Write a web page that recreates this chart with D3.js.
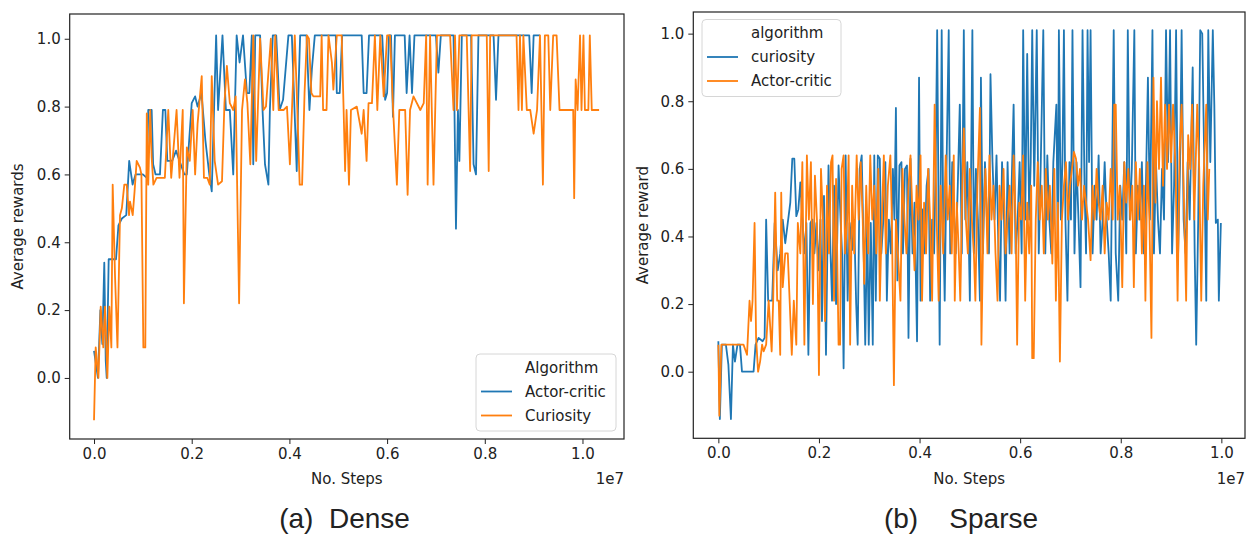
<!DOCTYPE html>
<html>
<head>
<meta charset="utf-8">
<script src="https://cdn.jsdelivr.net/npm/d3@7"></script>
<style>
    body { margin: 0; background: #fff; }
    svg text { font-family: "DejaVu Sans", sans-serif; fill: #222; }
</style>
</head>
<body>
<div id="chart"></div>
<script>

// ticks (steps are in units of 1e7)
var stepTicks = [0, 0.2, 0.4, 0.6, 0.8, 1.0];
var rewardTicks = [0, 0.2, 0.4, 0.6, 0.8, 1.0];

// (a) Dense  -- [steps (1e7), average reward]
var denseActorCritic = [[0,0.08],[0.008,0.0],[0.013,0.2],[0.017,0.1],[0.021,0.34],[0.024,0.05],[0.026,0.0],[0.03,0.35],[0.045,0.35],[0.05,0.45],[0.057,0.47],[0.066,0.48],[0.072,0.64],[0.079,0.57],[0.085,0.6],[0.1,0.6],[0.108,0.59],[0.111,0.79],[0.118,0.79],[0.121,0.63],[0.126,0.6],[0.135,0.6],[0.141,0.79],[0.146,0.79],[0.15,0.64],[0.16,0.64],[0.168,0.67],[0.175,0.64],[0.185,0.6],[0.19,0.6],[0.2,0.81],[0.207,0.83],[0.212,0.8],[0.22,0.84],[0.228,0.7],[0.236,0.6],[0.241,0.55],[0.25,1.01],[0.254,0.79],[0.263,1.01],[0.27,0.79],[0.278,0.79],[0.285,0.6],[0.292,1.01],[0.298,0.93],[0.305,1.01],[0.313,0.84],[0.318,0.84],[0.323,1.01],[0.326,0.63],[0.33,1.01],[0.34,1.01],[0.345,0.79],[0.35,0.63],[0.357,0.57],[0.36,0.79],[0.366,1.01],[0.373,1.01],[0.38,0.79],[0.387,0.82],[0.398,1.01],[0.405,1.01],[0.415,0.61],[0.418,0.82],[0.422,1.01],[0.435,1.01],[0.441,0.79],[0.446,0.91],[0.452,1.01],[0.495,1.01],[0.497,0.84],[0.503,0.84],[0.508,1.01],[0.548,1.01],[0.552,0.84],[0.558,0.84],[0.563,1.01],[0.59,1.01],[0.596,0.82],[0.6,0.84],[0.604,1.01],[0.608,1.01],[0.612,0.77],[0.616,1.01],[0.636,1.01],[0.64,0.84],[0.646,1.01],[0.651,0.84],[0.656,1.01],[0.7,1.01],[0.705,0.9],[0.71,1.01],[0.736,1.01],[0.741,0.44],[0.745,0.79],[0.748,0.64],[0.753,1.01],[0.772,1.01],[0.777,0.63],[0.782,0.6],[0.787,1.01],[0.818,1.01],[0.823,0.82],[0.828,1.01],[0.891,1.01],[0.896,0.84],[0.9,1.01],[0.913,1.01]];

var denseCuriosity = [[0,-0.125],[0.0034,0.09],[0.009,0.0],[0.0137,0.21],[0.019,0.09],[0.0225,0.21],[0.0273,0.0],[0.0314,0.21],[0.0355,0.09],[0.0382,0.57],[0.043,0.3],[0.048,0.09],[0.0532,0.48],[0.057,0.5],[0.062,0.57],[0.0669,0.57],[0.0717,0.48],[0.0737,0.52],[0.0792,0.48],[0.083,0.55],[0.0873,0.64],[0.094,0.62],[0.097,0.6],[0.101,0.09],[0.105,0.09],[0.108,0.78],[0.111,0.57],[0.115,0.79],[0.118,0.65],[0.1215,0.57],[0.128,0.59],[0.145,0.59],[0.152,0.79],[0.158,0.59],[0.169,0.79],[0.175,0.59],[0.1816,0.79],[0.184,0.22],[0.19,0.68],[0.196,0.64],[0.202,0.79],[0.207,0.6],[0.212,0.75],[0.2205,0.89],[0.225,0.59],[0.232,0.59],[0.237,0.57],[0.241,0.89],[0.247,0.64],[0.254,0.57],[0.262,0.58],[0.267,0.81],[0.272,0.92],[0.278,0.81],[0.285,0.79],[0.29,0.83],[0.297,0.22],[0.303,0.79],[0.309,0.88],[0.314,0.81],[0.32,0.63],[0.326,1.01],[0.332,0.64],[0.34,1.0],[0.347,0.79],[0.352,0.8],[0.362,1.0],[0.367,0.79],[0.371,1.01],[0.378,0.79],[0.388,0.79],[0.395,0.8],[0.401,0.63],[0.406,0.82],[0.411,1.01],[0.416,0.8],[0.421,0.57],[0.426,0.57],[0.431,0.84],[0.436,1.01],[0.44,1.0],[0.445,0.84],[0.449,0.83],[0.463,0.83],[0.466,1.01],[0.469,0.79],[0.476,0.79],[0.48,1.01],[0.487,0.93],[0.49,0.85],[0.497,1.01],[0.507,1.01],[0.511,0.79],[0.514,0.61],[0.517,0.79],[0.522,0.57],[0.526,0.79],[0.538,0.8],[0.548,0.72],[0.552,0.79],[0.558,0.64],[0.562,0.81],[0.569,0.81],[0.575,1.01],[0.58,0.79],[0.586,1.01],[0.593,0.83],[0.6,1.01],[0.606,1.01],[0.613,0.77],[0.62,0.57],[0.625,0.79],[0.637,0.79],[0.642,0.54],[0.647,0.79],[0.654,0.83],[0.668,0.79],[0.675,0.81],[0.68,1.01],[0.683,0.57],[0.688,1.01],[0.695,0.57],[0.702,1.01],[0.729,1.01],[0.736,0.79],[0.739,1.01],[0.743,0.79],[0.748,1.01],[0.763,1.01],[0.77,0.61],[0.773,1.01],[0.804,1.01],[0.808,0.61],[0.811,1.01],[0.865,1.01],[0.869,0.79],[0.872,1.01],[0.876,0.79],[0.879,1.01],[0.886,0.79],[0.893,0.79],[0.9,0.72],[0.907,0.79],[0.913,1.01],[0.919,0.57],[0.923,1.01],[0.93,1.01],[0.934,0.79],[0.94,1.01],[0.947,1.01],[0.953,0.79],[0.981,0.79],[0.983,0.53],[0.986,0.88],[0.99,0.79],[0.995,1.01],[0.998,0.79],[1.002,1.01],[1.005,0.79],[1.012,0.79],[1.015,1.01],[1.019,0.79],[1.034,0.79]];

// (b) Sparse
var sparseCuriosity = [[0,0.09],[0.003,-0.14],[0.007,0.08],[0.015,0.08],[0.02,0.02],[0.025,-0.14],[0.029,0.08],[0.033,0.03],[0.038,0.08],[0.043,0.08],[0.047,0.0],[0.07,0.0],[0.074,0.08],[0.08,0.1],[0.088,0.09],[0.092,0.1],[0.095,0.45],[0.099,0.21],[0.107,0.21],[0.112,0.44],[0.118,0.3],[0.123,0.35],[0.128,0.45],[0.133,0.38],[0.138,0.44],[0.143,0.5],[0.147,0.63],[0.151,0.63],[0.155,0.46],[0.159,0.48],[0.163,0.56],[0.167,0.45],[0.171,0.35],[0.175,0.44],[0.179,0.05],[0.183,0.44],[0.187,0.45],[0.191,0.35],[0.195,0.44],[0.199,0.3],[0.203,0.45],[0.206,0.15],[0.21,0.52],[0.214,0.05],[0.219,0.61],[0.223,0.35],[0.226,0.21],[0.23,0.55],[0.234,0.2],[0.239,0.61],[0.243,0.45],[0.246,0.35],[0.249,0.01],[0.253,0.64],[0.257,0.21],[0.261,0.44],[0.266,0.36],[0.27,0.45],[0.274,0.2],[0.277,0.08],[0.281,0.6],[0.285,0.64],[0.289,0.35],[0.292,0.08],[0.296,0.45],[0.299,0.08],[0.303,0.44],[0.307,0.08],[0.31,0.64],[0.313,0.21],[0.317,0.64],[0.321,0.63],[0.324,0.35],[0.328,0.45],[0.332,0.62],[0.335,0.21],[0.339,0.45],[0.343,0.35],[0.347,0.6],[0.35,0.45],[0.353,0.78],[0.356,0.27],[0.36,0.61],[0.364,0.62],[0.367,0.35],[0.371,0.6],[0.375,0.61],[0.378,0.1],[0.382,0.63],[0.386,0.35],[0.39,0.5],[0.395,0.09],[0.399,0.87],[0.402,0.21],[0.406,0.48],[0.41,0.35],[0.414,0.55],[0.418,0.6],[0.421,0.21],[0.425,0.45],[0.429,0.35],[0.432,0.61],[0.435,1.01],[0.438,0.45],[0.44,0.08],[0.444,1.01],[0.447,0.45],[0.45,0.21],[0.453,0.55],[0.458,1.01],[0.461,0.35],[0.465,0.62],[0.469,0.45],[0.472,0.35],[0.476,0.55],[0.48,0.79],[0.484,0.35],[0.488,1.01],[0.491,0.45],[0.495,0.62],[0.5,0.21],[0.505,1.01],[0.508,0.35],[0.512,0.6],[0.516,0.45],[0.52,0.21],[0.522,0.87],[0.526,0.35],[0.53,0.62],[0.534,0.45],[0.538,0.35],[0.541,0.88],[0.545,0.62],[0.549,0.45],[0.553,0.64],[0.557,0.35],[0.56,0.21],[0.564,0.62],[0.568,0.45],[0.571,0.21],[0.575,0.62],[0.579,0.35],[0.583,0.55],[0.587,0.79],[0.591,0.35],[0.595,0.45],[0.599,0.62],[0.603,0.35],[0.606,1.01],[0.61,0.45],[0.614,0.94],[0.618,0.45],[0.621,0.62],[0.624,1.01],[0.628,0.55],[0.633,1.01],[0.637,0.35],[0.641,0.62],[0.646,1.01],[0.65,0.35],[0.654,0.64],[0.658,0.45],[0.662,0.35],[0.666,0.62],[0.672,0.79],[0.675,0.35],[0.677,1.01],[0.681,0.45],[0.684,0.62],[0.687,1.01],[0.69,0.45],[0.694,0.21],[0.698,0.62],[0.701,0.45],[0.704,1.01],[0.708,0.35],[0.712,0.62],[0.716,0.45],[0.72,0.25],[0.724,1.01],[0.728,0.55],[0.731,0.35],[0.734,1.01],[0.737,0.62],[0.74,1.01],[0.744,0.35],[0.748,0.55],[0.752,0.45],[0.756,0.64],[0.76,0.35],[0.764,0.45],[0.768,0.62],[0.772,0.45],[0.776,0.35],[0.78,0.21],[0.783,0.62],[0.786,1.01],[0.79,0.35],[0.795,0.21],[0.799,0.55],[0.803,0.45],[0.807,0.62],[0.811,0.35],[0.814,1.01],[0.818,0.45],[0.822,0.6],[0.827,1.01],[0.83,0.35],[0.834,0.55],[0.838,0.45],[0.842,0.62],[0.846,0.35],[0.85,0.55],[0.854,0.87],[0.858,0.45],[0.863,1.01],[0.866,0.35],[0.87,0.62],[0.874,0.45],[0.878,0.35],[0.882,0.6],[0.886,0.45],[0.89,1.01],[0.894,0.62],[0.898,1.01],[0.902,0.35],[0.906,0.55],[0.91,1.01],[0.914,0.35],[0.918,0.62],[0.921,1.01],[0.925,0.45],[0.929,0.35],[0.933,0.62],[0.937,0.45],[0.943,0.9],[0.947,0.35],[0.95,0.08],[0.954,0.45],[0.958,1.01],[0.962,1.0],[0.966,0.62],[0.97,0.21],[0.974,1.01],[0.978,0.62],[0.983,1.01],[0.986,0.79],[0.989,0.44],[0.993,0.45],[0.995,0.21],[0.999,0.44]];

var sparseActorCritic = [[0,0.08],[0.002,-0.13],[0.006,0.08],[0.05,0.08],[0.057,0.05],[0.062,0.21],[0.065,0.15],[0.068,0.21],[0.072,0.44],[0.075,0.1],[0.079,0.0],[0.083,0.03],[0.087,0.08],[0.09,0.06],[0.095,0.08],[0.1,0.21],[0.106,0.06],[0.109,0.21],[0.113,0.53],[0.117,0.21],[0.12,0.21],[0.123,0.05],[0.125,0.53],[0.128,0.25],[0.133,0.35],[0.138,0.35],[0.142,0.2],[0.146,0.05],[0.15,0.21],[0.155,0.08],[0.158,0.44],[0.163,0.35],[0.167,0.62],[0.171,0.08],[0.176,0.64],[0.18,0.45],[0.184,0.62],[0.188,0.2],[0.192,0.58],[0.196,0.45],[0.2,-0.01],[0.204,0.6],[0.208,0.45],[0.212,0.15],[0.216,0.55],[0.22,0.35],[0.224,0.62],[0.227,0.64],[0.23,0.21],[0.234,0.57],[0.239,0.08],[0.242,0.08],[0.245,0.6],[0.249,0.64],[0.252,0.35],[0.256,0.45],[0.259,0.64],[0.262,0.08],[0.266,0.55],[0.27,0.35],[0.275,0.64],[0.279,0.45],[0.283,0.62],[0.287,0.45],[0.29,0.26],[0.294,0.55],[0.298,0.35],[0.302,0.64],[0.306,0.45],[0.31,0.55],[0.314,0.35],[0.318,0.6],[0.321,0.21],[0.325,0.45],[0.329,0.64],[0.333,0.35],[0.337,0.55],[0.342,0.64],[0.345,0.45],[0.349,-0.04],[0.353,0.45],[0.357,0.35],[0.362,0.21],[0.366,0.6],[0.37,0.45],[0.374,0.35],[0.378,0.55],[0.382,0.64],[0.386,0.45],[0.39,0.3],[0.394,0.55],[0.398,0.45],[0.402,0.64],[0.405,0.21],[0.409,0.5],[0.413,0.35],[0.417,0.6],[0.421,0.45],[0.425,0.21],[0.43,0.79],[0.434,0.45],[0.438,0.21],[0.442,0.55],[0.447,0.35],[0.452,0.64],[0.456,0.45],[0.46,0.55],[0.464,0.35],[0.468,0.64],[0.47,0.21],[0.474,0.5],[0.478,0.35],[0.481,0.21],[0.485,0.55],[0.488,0.72],[0.492,0.45],[0.496,0.35],[0.5,0.6],[0.504,0.45],[0.508,0.35],[0.511,0.21],[0.515,0.55],[0.52,0.78],[0.523,0.08],[0.527,0.45],[0.531,0.6],[0.535,0.35],[0.539,0.64],[0.543,0.45],[0.547,0.55],[0.551,0.35],[0.555,0.21],[0.559,0.55],[0.563,0.45],[0.567,0.6],[0.571,0.35],[0.575,0.45],[0.579,0.55],[0.583,0.35],[0.587,0.64],[0.591,0.45],[0.594,0.08],[0.598,0.5],[0.602,0.45],[0.606,0.64],[0.61,0.21],[0.614,0.5],[0.618,0.35],[0.622,0.55],[0.624,0.04],[0.627,0.04],[0.631,0.45],[0.635,0.62],[0.639,0.45],[0.643,0.55],[0.647,0.35],[0.651,0.6],[0.655,0.45],[0.659,0.55],[0.664,0.32],[0.668,0.6],[0.671,0.21],[0.675,0.5],[0.679,0.03],[0.683,0.45],[0.687,0.55],[0.691,0.62],[0.695,0.45],[0.699,0.55],[0.703,0.6],[0.707,0.65],[0.711,0.63],[0.715,0.55],[0.719,0.6],[0.723,0.45],[0.727,0.55],[0.731,0.5],[0.735,0.45],[0.74,0.33],[0.744,0.55],[0.748,0.45],[0.752,0.6],[0.756,0.5],[0.76,0.45],[0.764,0.55],[0.768,0.35],[0.772,0.5],[0.776,0.45],[0.78,0.6],[0.784,0.45],[0.787,0.79],[0.79,0.79],[0.794,0.45],[0.798,0.55],[0.803,0.25],[0.807,0.62],[0.811,0.5],[0.815,0.6],[0.819,0.45],[0.823,0.55],[0.826,0.25],[0.83,0.62],[0.834,0.45],[0.838,0.6],[0.842,0.35],[0.846,0.55],[0.849,0.21],[0.853,0.62],[0.857,0.45],[0.861,0.1],[0.865,0.87],[0.869,0.5],[0.872,0.8],[0.876,0.6],[0.88,0.87],[0.884,0.55],[0.888,0.79],[0.892,0.6],[0.896,0.79],[0.9,0.62],[0.904,0.79],[0.909,0.6],[0.913,0.21],[0.917,0.65],[0.921,0.79],[0.925,0.55],[0.93,0.21],[0.934,0.7],[0.938,0.6],[0.942,0.79],[0.946,0.45],[0.952,0.79],[0.956,0.6],[0.96,0.21],[0.964,0.55],[0.97,0.79],[0.973,0.45],[0.976,0.6]];

var blue = "#1f77b4", orange = "#ff7f0e";

var svg = d3.select("#chart")
    .append("svg")
    .attr("width", 1251)
    .attr("height", 534);

function drawPanel(p) {
    var x = d3.scaleLinear().domain(p.xDomain).range([p.left, p.right]);
    var y = d3.scaleLinear().domain(p.yDomain).range([p.bottom, p.top]);
    var g = svg.append("g");

    var line = d3.line()
        .x(function (d) { return x(d[0]) })
        .y(function (d) { return y(d[1]) });

    p.series.forEach(function (s) {
        g.append("path")
            .datum(s.data)
            .attr("fill", "none")
            .attr("stroke", s.color)
            .attr("stroke-width", 1.8)
            .attr("stroke-linejoin", "round")
            .attr("d", line);
    });

    // axes
    var xAxis = g.append("g")
        .attr("transform", "translate(0," + p.bottom + ")")
        .call(d3.axisBottom(x).tickValues(stepTicks).tickFormat(d3.format(".1f")).tickSize(5).tickPadding(4));
    var yAxis = g.append("g")
        .attr("transform", "translate(" + p.left + ",0)")
        .call(d3.axisLeft(y).tickValues(rewardTicks).tickFormat(d3.format(".1f")).tickSize(5).tickPadding(4));
    [xAxis, yAxis].forEach(function (a) {
        a.select(".domain").remove();
        a.selectAll("line").attr("stroke", "#222");
        a.selectAll("text").style("font-size", "15px").attr("fill", "#222");
    });

    // frame
    g.append("rect")
        .attr("x", p.left).attr("y", p.top)
        .attr("width", p.right - p.left).attr("height", p.bottom - p.top)
        .attr("fill", "none").attr("stroke", "#222").attr("stroke-width", 1.2);

    // labels
    g.append("text")
        .attr("x", (p.left + p.right) / 2).attr("y", 484)
        .attr("text-anchor", "middle").style("font-size", "15px")
        .text("No. Steps");
    g.append("text")
        .attr("x", p.right).attr("y", 484)
        .attr("text-anchor", "end").style("font-size", "15px")
        .text("1e7");
    g.append("text")
        .attr("transform", "translate(" + p.yLabelX + "," + (p.top + p.bottom) / 2 + ") rotate(-90)")
        .attr("text-anchor", "middle").attr("dy", "0.35em").style("font-size", "15px")
        .text(p.yLabel);

    // legend (seaborn style: title is a row with no handle)
    var lg = g.append("g");
    lg.append("rect")
        .attr("x", p.legend.x).attr("y", p.legend.y)
        .attr("width", p.legend.w).attr("height", p.legend.h)
        .attr("rx", 4)
        .attr("fill", "white").attr("fill-opacity", 0.8)
        .attr("stroke", "#d6d6d6");
    var rows = [{ label: p.legendTitle, color: null }].concat(p.series);
    rows.forEach(function (r, i) {
        var cy = p.legend.y + 13.5 + i * 24;
        if (r.color) {
            lg.append("line")
                .attr("x1", p.legend.x + 5).attr("x2", p.legend.x + 36)
                .attr("y1", cy).attr("y2", cy)
                .attr("stroke", r.color).attr("stroke-width", 1.8);
        }
        lg.append("text")
            .attr("x", p.legend.x + 49).attr("y", cy)
            .attr("dy", "0.35em").style("font-size", "15px")
            .text(r.label);
    });

    // caption
    svg.append("text")
        .attr("x", p.captionX).attr("y", 528)
        .attr("text-anchor", "middle")
        .style("font-family", "'Liberation Sans', Arial, sans-serif")
        .style("font-size", "28px")
        .style("white-space", "pre")
        .text(p.caption);
}

drawPanel({
    left: 69.7, right: 624, top: 14, bottom: 439,
    xDomain: [-0.0498, 1.085], yDomain: [-0.18, 1.073],
    series: [
        { label: "Actor-critic", color: blue, data: denseActorCritic },
        { label: "Curiosity", color: orange, data: denseCuriosity }
    ],
    legendTitle: "Algorithm",
    legend: { x: 476, y: 354, w: 140, h: 77 },
    yLabel: "Average rewards", yLabelX: 18,
    caption: "(a)  Dense", captionX: 344.5
});

drawPanel({
    left: 693.3, right: 1245, top: 12, bottom: 438.3,
    xDomain: [-0.0498, 1.047], yDomain: [-0.197, 1.064],
    series: [
        { label: "curiosity", color: blue, data: sparseCuriosity },
        { label: "Actor-critic", color: orange, data: sparseActorCritic }
    ],
    legendTitle: "algorithm",
    legend: { x: 702, y: 19.5, w: 139, h: 77 },
    yLabel: "Average reward", yLabelX: 643,
    caption: "(b)    Sparse", captionX: 961
});

</script>
</body>
</html>
